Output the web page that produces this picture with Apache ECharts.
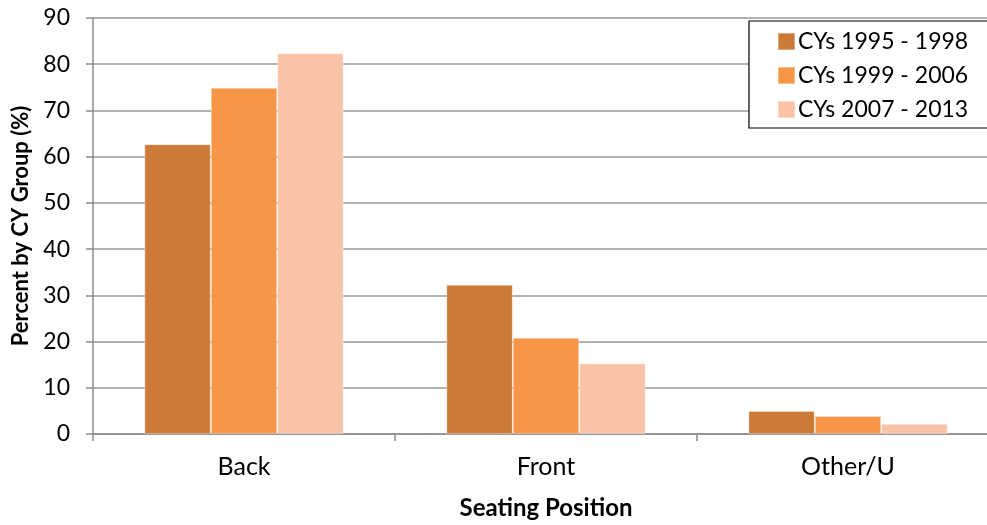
<!DOCTYPE html>
<html>
<head>
<meta charset="utf-8">
<script src="https://cdn.jsdelivr.net/npm/echarts@6/dist/echarts.min.js"></script>
<style>
  html, body { margin: 0; padding: 0; background: #fff; }
  #chart { width: 987px; height: 525px; }
</style>
</head>
<body>
<div id="chart"></div>
<script>
// Seating position shares by calendar-year group
const categories = ['Back', 'Front', 'Other/U'];
const seriesNames = ['CYs 1995 - 1998', 'CYs 1999 - 2006', 'CYs 2007 - 2013'];
const cy1995to1998 = [62.7, 32.3, 5.0];
const cy1999to2006 = [74.9, 20.8, 3.9];
const cy2007to2013 = [82.4, 15.3, 2.2];
const yTicks = [0, 10, 20, 30, 40, 50, 60, 70, 80, 90];

const colors = ['#CB7A38', '#F79646', '#F9C3A8'];
const fontFamily = 'Lato, "Liberation Sans", sans-serif';
const valueSets = [cy1995to1998, cy1999to2006, cy2007to2013];

const chart = echarts.init(document.getElementById('chart'), null, { renderer: 'canvas' });
chart.setOption({
  animation: false,
  textStyle: { fontFamily: fontFamily },
  grid: { left: 93, top: 18, width: 906, height: 416, containLabel: false, outerBoundsMode: 'none' },
  legend: {
    orient: 'vertical',
    left: 749,
    top: 21,
    data: seriesNames,
    icon: 'rect',
    itemWidth: 17,
    itemHeight: 17,
    itemGap: 11,
    padding: [9, 40, 7, 28],
    borderColor: '#000',
    borderWidth: 1.2,
    backgroundColor: '#fff',
    textStyle: { fontSize: 23, color: '#000', fontFamily: fontFamily, padding: [0, 0, 0, -2] }
  },
  xAxis: {
    type: 'category',
    data: categories,
    name: 'Seating Position',
    nameLocation: 'middle',
    nameGap: 62,
    nameTextStyle: { fontSize: 24, fontWeight: 'bold', color: '#000' },
    axisLine: { lineStyle: { color: '#8c8c8c', width: 1.5 } },
    axisTick: { show: true, length: 7, lineStyle: { color: '#8c8c8c', width: 1.5 } },
    axisLabel: { fontSize: 25, color: '#000', margin: 20 }
  },
  yAxis: {
    type: 'value',
    min: yTicks[0],
    max: yTicks[yTicks.length - 1],
    interval: 10,
    name: 'Percent by CY Group (%)',
    nameLocation: 'middle',
    nameGap: 61,
    nameTextStyle: { fontSize: 22, fontWeight: 'bold', color: '#000' },
    axisLine: { show: true, lineStyle: { color: '#8c8c8c', width: 1.5 } },
    axisTick: { show: true, length: 7, lineStyle: { color: '#8c8c8c', width: 1.5 } },
    axisLabel: { fontSize: 23, color: '#000', margin: 23 },
    splitLine: { lineStyle: { color: '#999', width: 1.5 } }
  },
  series: seriesNames.map((name, i) => ({
    name: name,
    type: 'bar',
    data: valueSets[i],
    barGap: '0%',
    barCategoryGap: '34%',
    itemStyle: { color: colors[i], borderColor: 'rgba(255,255,255,0.35)', borderWidth: 1 }
  }))
});
</script>
</body>
</html>
